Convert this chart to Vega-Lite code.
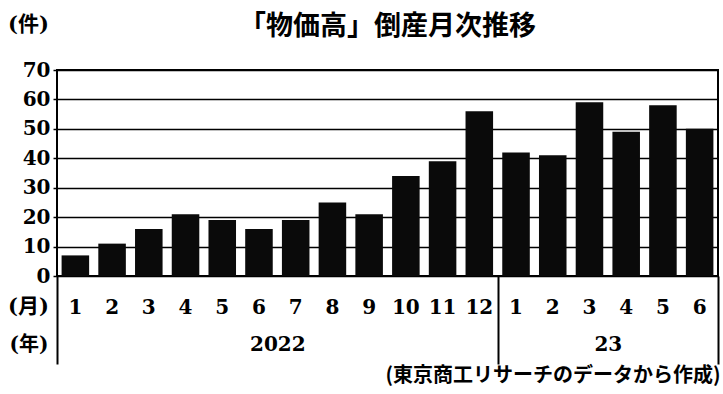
{
  "$schema": "https://vega.github.io/schema/vega-lite/v6.json",
  "autosize": {"type": "none"},
  "padding": {"left": 57, "top": 70, "right": 5, "bottom": 118},
  "width": 661,
  "height": 206,
  "background": "white",
  "title": {
    "text": "「物価高」倒産月次推移",
    "font": "Noto Sans CJK JP",
    "fontSize": 27,
    "fontWeight": "bold",
    "color": "black",
    "anchor": "middle",
    "baseline": "bottom",
    "offset": 0,
    "dy": 55
  },
  "config": {
    "view": {"stroke": "black", "strokeWidth": 2},
    "axis": {"labelColor": "black", "titleColor": "black"}
  },
  "data": {
    "values": [
      {"ym": "2022-01", "count": 7},
      {"ym": "2022-02", "count": 11},
      {"ym": "2022-03", "count": 16},
      {"ym": "2022-04", "count": 21},
      {"ym": "2022-05", "count": 19},
      {"ym": "2022-06", "count": 16},
      {"ym": "2022-07", "count": 19},
      {"ym": "2022-08", "count": 25},
      {"ym": "2022-09", "count": 21},
      {"ym": "2022-10", "count": 34},
      {"ym": "2022-11", "count": 39},
      {"ym": "2022-12", "count": 56},
      {"ym": "2023-01", "count": 42},
      {"ym": "2023-02", "count": 41},
      {"ym": "2023-03", "count": 59},
      {"ym": "2023-04", "count": 49},
      {"ym": "2023-05", "count": 58},
      {"ym": "2023-06", "count": 50}
    ]
  },
  "layer": [
    {
      "mark": {"type": "bar", "color": "#0a0a0a"},
      "encoding": {
        "x": {
          "field": "ym",
          "type": "ordinal",
          "sort": "ascending",
          "scale": {"paddingInner": 0.25, "paddingOuter": 0.125},
          "axis": {
            "orient": "bottom",
            "labelExpr": "toNumber(slice(datum.value, 5))",
            "labelAngle": 0,
            "labelFont": "DejaVu Serif",
            "labelFontWeight": "bold",
            "labelFontSize": 20,
            "labelBaseline": "top",
            "labelPadding": 21,
            "ticks": false,
            "domain": false,
            "title": "(月)",
            "titleFont": "DejaVu Serif, Noto Sans CJK JP",
            "titleFontSize": 21,
            "titleFontWeight": "bold",
            "titleAngle": 0,
            "titleAlign": "center",
            "titleBaseline": "middle",
            "titleX": -29,
            "titleY": 30
          }
        },
        "y": {
          "field": "count",
          "type": "quantitative",
          "scale": {"domain": [0, 70], "nice": false},
          "axis": {
            "values": [0, 10, 20, 30, 40, 50, 60, 70],
            "grid": true,
            "gridColor": "black",
            "gridWidth": 1.5,
            "gridOpacity": 1,
            "domain": false,
            "tickSize": 4,
            "tickColor": "black",
            "tickWidth": 1.5,
            "labelPadding": 3,
            "labelFont": "DejaVu Serif",
            "labelFontWeight": "bold",
            "labelFontSize": 20,
            "title": "(件)",
            "titleFont": "DejaVu Serif, Noto Sans CJK JP",
            "titleFontSize": 21,
            "titleFontWeight": "bold",
            "titleAngle": 0,
            "titleAlign": "center",
            "titleBaseline": "middle",
            "titleX": -29,
            "titleY": -46
          }
        }
      }
    },
    {
      "transform": [{"window": [{"op": "row_number", "as": "n"}]}],
      "mark": {"type": "point", "opacity": 0},
      "encoding": {
        "x": {
          "field": "n",
          "type": "quantitative",
          "scale": {"domain": [0.5, 18.5], "nice": false, "zero": false},
          "axis": {
            "orient": "bottom",
            "values": [0.5, 6.5, 12.5, 15.5, 18.5],
            "labelExpr": "datum.value == 0.5 ? '(年)' : datum.value == 6.5 ? '2022' : datum.value == 15.5 ? '23' : ''",
            "labelAlign": {"condition": {"test": "datum.value == 0.5", "value": "right"}, "value": "center"},
            "labelOffset": {"condition": {"test": "datum.value == 0.5", "value": -9}, "value": 0},
            "labelFont": "DejaVu Serif, Noto Sans CJK JP",
            "labelFontWeight": "bold",
            "labelFontSize": 20,
            "labelBaseline": "top",
            "labelPadding": -30,
            "labelFlush": false,
            "labelOverlap": false,
            "labelBound": false,
            "domain": false,
            "grid": false,
            "tickSize": 88,
            "tickWidth": 2,
            "tickColor": "black",
            "tickOpacity": {"condition": {"test": "datum.value == 6.5 || datum.value == 15.5", "value": 0}, "value": 1},
            "title": "(東京商工リサーチのデータから作成)",
            "titleFont": "Noto Sans CJK JP",
            "titleFontSize": 20,
            "titleFontWeight": "bold",
            "titleAngle": 0,
            "titleAlign": "right",
            "titleBaseline": "middle",
            "titleX": 663,
            "titleY": 99
          }
        }
      }
    }
  ],
  "resolve": {"scale": {"x": "independent"}}
}
